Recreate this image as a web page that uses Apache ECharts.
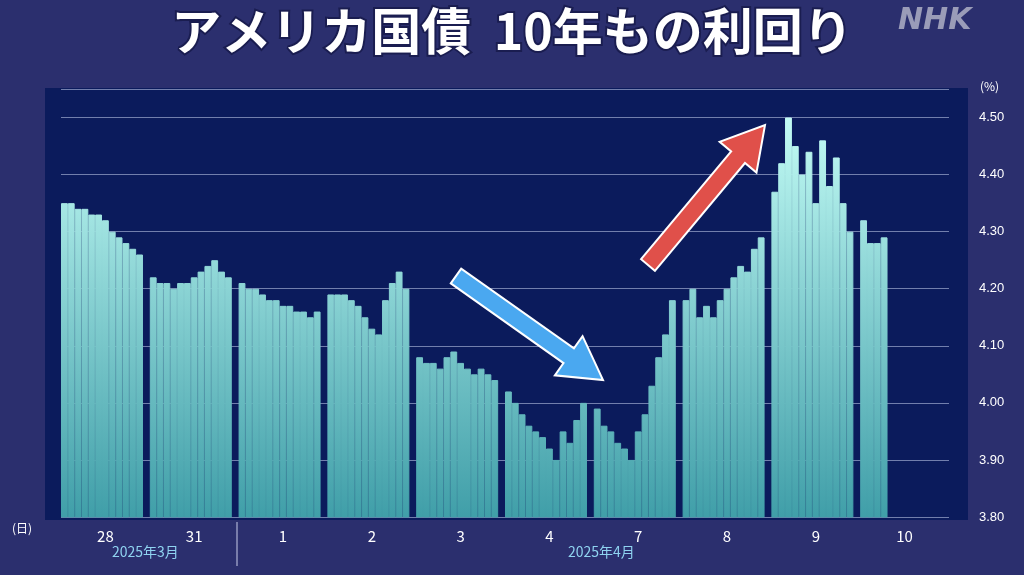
<!DOCTYPE html>
<html><head><meta charset="utf-8">
<script src="https://cdn.jsdelivr.net/npm/echarts@6/dist/echarts.min.js"></script>
<style>html,body{margin:0;padding:0;background:#2b2f6e;}#c{width:1024px;height:575px;}</style>
</head><body><div id="c"></div>
<script>
const dayLabels = ['28','31','1','2','3','4','7','8','9','10'];
const yTicks = [3.8,3.9,4.0,4.1,4.2,4.3,4.4,4.5];
const d28 = [4.35,4.35,4.34,4.34,4.33,4.33,4.32,4.30,4.29,4.28,4.27,4.26];
const d31 = [4.22,4.21,4.21,4.20,4.21,4.21,4.22,4.23,4.24,4.25,4.23,4.22];
const d1  = [4.21,4.20,4.20,4.19,4.18,4.18,4.17,4.17,4.16,4.16,4.15,4.16];
const d2  = [4.19,4.19,4.19,4.18,4.17,4.15,4.13,4.12,4.18,4.21,4.23,4.20];
const d3  = [4.08,4.07,4.07,4.06,4.08,4.09,4.07,4.06,4.05,4.06,4.05,4.04];
const d4  = [4.02,4.00,3.98,3.96,3.95,3.94,3.92,3.90,3.95,3.93,3.97,4.00];
const d7  = [3.99,3.96,3.95,3.93,3.92,3.90,3.95,3.98,4.03,4.08,4.12,4.18];
const d8  = [4.18,4.20,4.15,4.17,4.15,4.18,4.20,4.22,4.24,4.23,4.27,4.29];
const d9  = [4.37,4.42,4.50,4.45,4.40,4.44,4.35,4.46,4.38,4.43,4.35,4.30];
const d10 = [4.32,4.28,4.28,4.29];
const days = [d28,d31,d1,d2,d3,d4,d7,d8,d9,d10];
const values = [];
days.forEach(d=>{for(let i=0;i<13;i++) values.push(i<d.length?d[i]:null);});
const cats = values.map((_,i)=>'s'+i);

function arrow(x1,y1,x2,y2,color){
  const dx=x2-x1, dy=y2-y1, L=Math.hypot(dx,dy), ux=dx/L, uy=dy/L, px=-uy, py=ux;
  const sw=9, hw=24, hl=42;
  const bx=x2-ux*hl, by=y2-uy*hl;
  const pts=[[x1+px*sw,y1+py*sw],[bx+px*sw,by+py*sw],[bx+px*hw,by+py*hw],[x2,y2],[bx-px*hw,by-py*hw],[bx-px*sw,by-py*sw],[x1-px*sw,y1-py*sw]];
  return {type:'polygon',shape:{points:pts},style:{fill:color,stroke:'#ffffff',lineWidth:2},z:100};
}
const grad = ()=>new echarts.graphic.LinearGradient(0,100,0,520,[{offset:0,color:'#c8fff8'},{offset:1,color:'#3f9ea8'}],true);

const chart = echarts.init(document.getElementById('c'));
chart.setOption({
  backgroundColor:'#2b2f6e',
  animation:false,
  grid:{left:61,right:75,top:89,bottom:58},
  xAxis:[
    {type:'category',data:cats,show:false},
    {type:'category',data:dayLabels,position:'bottom',axisLine:{show:false},axisTick:{show:false},
     axisLabel:{color:'#ffffff',fontSize:15,margin:12,fontFamily:'Noto Sans CJK JP'}}
  ],
  yAxis:{type:'value',position:'right',min:3.8,max:4.55,interval:0.1,
    axisLine:{show:false},axisTick:{show:false},
    axisLabel:{color:'#ffffff',fontSize:13,margin:30,formatter:v=>yTicks.some(t=>Math.abs(t-v)<1e-6)?v.toFixed(2):''},
    splitLine:{lineStyle:{color:'rgba(200,210,240,0.55)',width:1}}},
  graphic:[
    {type:'rect',shape:{x:45,y:88,width:923,height:432},style:{fill:'#0b1b5c'},z:-10},
    {type:'text',left:'center',top:4,style:{text:'アメリカ国債  10年もの利回り',fill:'#ffffff',font:'bold 50px "Noto Sans CJK JP"',stroke:'#1a1d50',lineWidth:4}},
    {type:'text',left:898,top:6,style:{text:'NHK',fill:'#9a9cb8',font:'italic bold 30px "DejaVu Sans"'}},
    {type:'text',left:980,top:80,style:{text:'(%)',fill:'#ffffff',font:'12px "Noto Sans CJK JP"'}},
    {type:'text',left:12,top:522,style:{text:'(日)',fill:'#ffffff',font:'12px "Noto Sans CJK JP"'}},
    {type:'text',left:112,top:545,style:{text:'2025年3月',fill:'#8fd3f0',font:'14px "Noto Sans CJK JP"'}},
    {type:'text',left:568,top:545,style:{text:'2025年4月',fill:'#8fd3f0',font:'14px "Noto Sans CJK JP"'}},
    {type:'line',shape:{x1:237,y1:522,x2:237,y2:566},style:{stroke:'#c8cce8',lineWidth:1}},
    arrow(456,276,603,380,'#4aa8f0'),
    arrow(648,265,765,125,'#e0504a')
  ],
  series:[{type:'bar',data:values,barCategoryGap:'0%',barGap:'0%',
    itemStyle:{color:grad(),borderColor:grad(),borderWidth:1}}]
});
</script></body></html>
